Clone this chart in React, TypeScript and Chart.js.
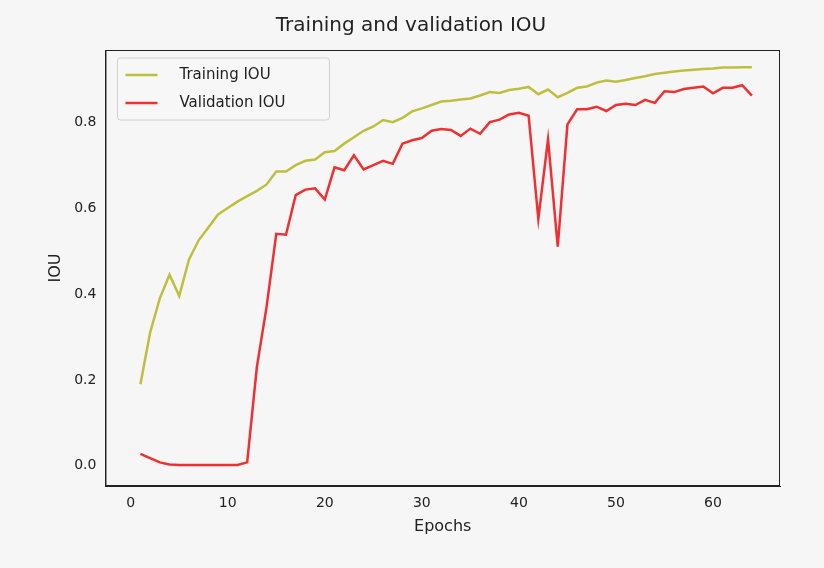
import React, { useEffect, useRef } from 'react';
import Chart from 'chart.js/auto';

const epochs: number[] = Array.from({ length: 64 }, (_, i) => i + 1);

const trainingIou: number[] = [
  0.19, 0.31, 0.39, 0.445, 0.395, 0.48, 0.525, 0.555, 0.585, 0.6,
  0.615, 0.628, 0.64, 0.655, 0.685, 0.685, 0.7, 0.71, 0.713, 0.73,
  0.733, 0.75, 0.765, 0.78, 0.79, 0.805, 0.8, 0.81, 0.825, 0.832,
  0.84, 0.848, 0.85, 0.853, 0.855, 0.862, 0.87, 0.868, 0.875, 0.878,
  0.882, 0.865, 0.876, 0.858, 0.868, 0.88, 0.883, 0.892, 0.897, 0.894,
  0.898, 0.903, 0.907, 0.912, 0.915, 0.918, 0.92, 0.922, 0.924, 0.925,
  0.927, 0.927, 0.928, 0.928,
];

const validationIou: number[] = [
  0.028, 0.018, 0.008, 0.003, 0.002, 0.002, 0.002, 0.002, 0.002, 0.002,
  0.002, 0.008, 0.23, 0.37, 0.54, 0.538, 0.63, 0.643, 0.646, 0.62,
  0.695, 0.688, 0.723, 0.69, 0.7, 0.71, 0.703, 0.75, 0.758, 0.763,
  0.78, 0.784, 0.782, 0.768, 0.785, 0.773, 0.8, 0.806, 0.818, 0.822,
  0.815, 0.575, 0.76, 0.51, 0.795, 0.83, 0.83, 0.836, 0.826, 0.84,
  0.843, 0.84, 0.852, 0.845, 0.872, 0.87, 0.877, 0.88, 0.883, 0.867,
  0.88, 0.88, 0.886, 0.862,
];

const xTicks = [0, 10, 20, 30, 40, 50, 60];
const yTicks = [0, 0.2, 0.4, 0.6, 0.8];

const FONT = "'DejaVu Sans', sans-serif";
const TRAIN_COLOR = '#bfbf3f';
const VAL_COLOR = '#f03030';

// full box around the plot plus legend inside, top-left, like matplotlib
const innerLegend = {
  id: 'innerLegend',
  afterDraw(chart: Chart) {
    const { ctx, chartArea } = chart;
    ctx.save();
    ctx.strokeStyle = '#222';
    ctx.lineWidth = 1;
    ctx.strokeRect(chartArea.left + 0.5, chartArea.top + 0.5, chartArea.right - chartArea.left - 1, chartArea.bottom - chartArea.top - 1);

    const x = chartArea.left + 12;
    const y = chartArea.top + 8;
    ctx.fillStyle = 'rgba(247,247,247,0.85)';
    ctx.strokeStyle = '#d0d0d0';
    ctx.beginPath();
    ctx.roundRect(x, y, 212, 62, 3);
    ctx.fill();
    ctx.stroke();
    const items: [string, string][] = [
      ['Training IOU', TRAIN_COLOR],
      ['Validation IOU', VAL_COLOR],
    ];
    ctx.font = `15px ${FONT}`;
    ctx.textBaseline = 'middle';
    items.forEach(([label, color], i) => {
      const ly = y + 17 + i * 28;
      ctx.strokeStyle = color;
      ctx.lineWidth = 2.5;
      ctx.beginPath();
      ctx.moveTo(x + 8, ly);
      ctx.lineTo(x + 40, ly);
      ctx.stroke();
      ctx.fillStyle = '#222';
      ctx.fillText(label, x + 62, ly);
    });
    ctx.restore();
  },
};

const App: React.FC = () => {
  const canvasRef = useRef<HTMLCanvasElement>(null);

  useEffect(() => {
    document.body.style.margin = '0';
    document.body.style.background = '#f6f6f6';
    if (!canvasRef.current) return;
    const chart = new Chart(canvasRef.current, {
      type: 'line',
      data: {
        labels: epochs,
        datasets: [
          {
            label: 'Training IOU',
            data: epochs.map((e, i) => ({ x: e, y: trainingIou[i] })),
            borderColor: TRAIN_COLOR,
            borderWidth: 2.5,
            pointRadius: 0,
            tension: 0,
          },
          {
            label: 'Validation IOU',
            data: epochs.map((e, i) => ({ x: e, y: validationIou[i] })),
            borderColor: VAL_COLOR,
            borderWidth: 2.5,
            pointRadius: 0,
            tension: 0,
          },
        ],
      },
      options: {
        responsive: false,
        animation: false,
        layout: { padding: { left: 42, right: 44, top: 8, bottom: 28 } },
        plugins: {
          legend: { display: false },
          tooltip: { enabled: false },
          title: {
            display: true,
            text: 'Training and validation IOU',
            color: '#222',
            font: { family: FONT, size: 20, weight: 'normal' },
            padding: { top: 6, bottom: 12 },
          },
        },
        scales: {
          x: {
            type: 'linear',
            min: -2.6,
            max: 66.9,
            afterBuildTicks: (axis: any) => {
              axis.ticks = xTicks.map((v) => ({ value: v }));
            },
            ticks: { color: '#222', font: { family: FONT, size: 14 }, maxRotation: 0 },
            grid: { display: false, tickLength: 6, tickColor: '#222' } as any,
            border: { color: '#222', width: 1 },
            title: { display: true, text: 'Epochs', color: '#222', font: { family: FONT, size: 16 }, padding: { top: 2 } },
          },
          y: {
            min: -0.047,
            max: 0.968,
            afterBuildTicks: (axis: any) => {
              axis.ticks = yTicks.map((v) => ({ value: v }));
            },
            ticks: {
              color: '#222',
              font: { family: FONT, size: 14 },
              callback: (v: any) => Number(v).toFixed(1),
            },
            grid: { display: false, tickLength: 6, tickColor: '#222' } as any,
            border: { color: '#222', width: 1 },
            title: { display: true, text: 'IOU', color: '#222', font: { family: FONT, size: 16 }, padding: { bottom: 6 } },
          },
        },
      },
      plugins: [innerLegend],
    });
    return () => chart.destroy();
  }, []);

  return (
    <div style={{ width: 824, height: 568, background: '#f6f6f6' }}>
      <canvas ref={canvasRef} width={824} height={568} />
    </div>
  );
};

export default App;
